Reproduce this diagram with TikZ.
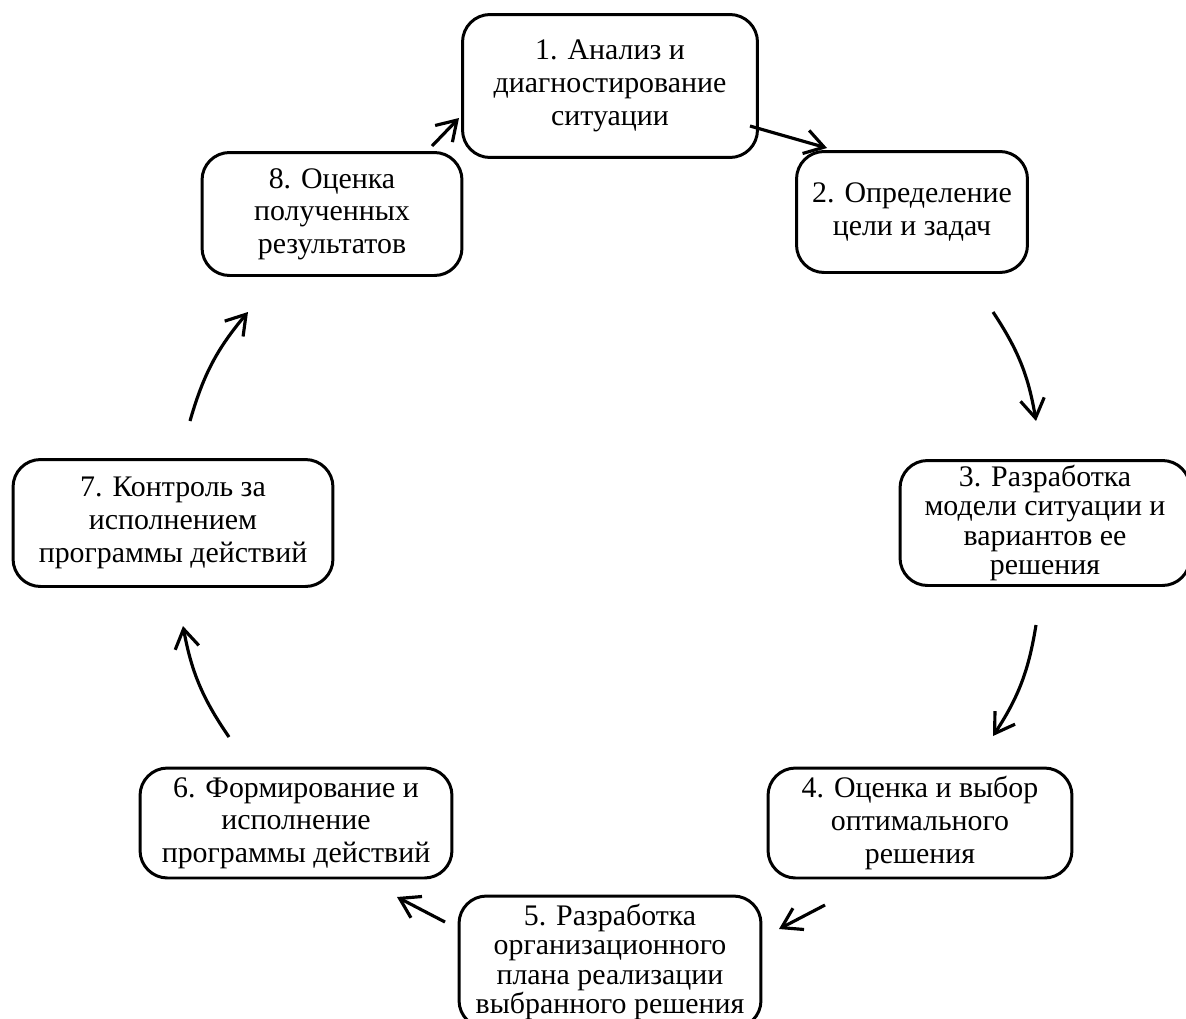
\documentclass[tikz,border=0pt]{standalone}
\usepackage{fontspec}
\setmainfont{Liberation Serif}
\usepackage{tikz}
\usetikzlibrary{arrows.meta,positioning}

\tikzset{
stage/.style={draw, line width=1.7pt, rounded corners=0.55cm, align=center, inner sep=0pt, font=\fontsize{17}{18.6}\selectfont},
tight/.style={font=\fontsize{17}{16.6}\selectfont},
arr/.style={line width=1.8pt, -{Straight Barb[length=3.8mm,width=4.8mm]}}
}

\begin{document}
\begin{tikzpicture}[x=0.02cm, y=-0.02cm]
\useasboundingbox (0,0) rectangle (1186,1018);

\node[stage, minimum width=5.9cm, minimum height=2.86cm] (s1) at (610,86) {1. Анализ и\\диагностирование\\ситуации};
\node[stage, minimum width=4.62cm, minimum height=2.42cm] (s2) at (912,212) {2. Определение\\цели и задач};
\node[stage, tight, minimum width=5.8cm, minimum height=2.5cm] (s3) at (1045,523) {3. Разработка\\модели ситуации и\\вариантов ее\\решения};
\node[stage, minimum width=6.08cm, minimum height=2.2cm] (s4) at (920,823) {4. Оценка и выбор\\оптимального\\решения};
\node[stage, tight, minimum width=6.04cm, minimum height=2.64cm] (s5) at (610,962) {5. Разработка\\организационного\\плана реализации\\выбранного решения};
\node[stage, minimum width=6.24cm, minimum height=2.2cm] (s6) at (296,823) {6. Формирование и\\исполнение\\программы действий};
\node[stage, minimum width=6.4cm, minimum height=2.54cm] (s7) at (173,523) {7. Контроль за\\исполнением\\программы действий};
\node[stage, minimum width=5.2cm, minimum height=2.46cm] (s8) at (332,214) {8. Оценка\\полученных\\результатов};

\coordinate (a12) at (750,126);  \coordinate (b12) at (827,148);
\coordinate (a23) at (993,312);  \coordinate (b23) at (1036,421);
\coordinate (a34) at (1036,625); \coordinate (b34) at (993,736);
\coordinate (a45) at (825,905);  \coordinate (b45) at (779,929);
\coordinate (a56) at (445,922);  \coordinate (b56) at (397,897);
\coordinate (a67) at (229,737);  \coordinate (b67) at (183,626);
\coordinate (a78) at (190,421);  \coordinate (b78) at (248,312);
\coordinate (a81) at (432,146);  \coordinate (b81) at (459,118);

\foreach \p in {12,45,56,81}
\draw[arr] (a\p) -- (b\p);
\foreach \p in {23,34,67,78}
\draw[arr] (a\p) to[bend left=12] (b\p);
\end{tikzpicture}
\end{document}
